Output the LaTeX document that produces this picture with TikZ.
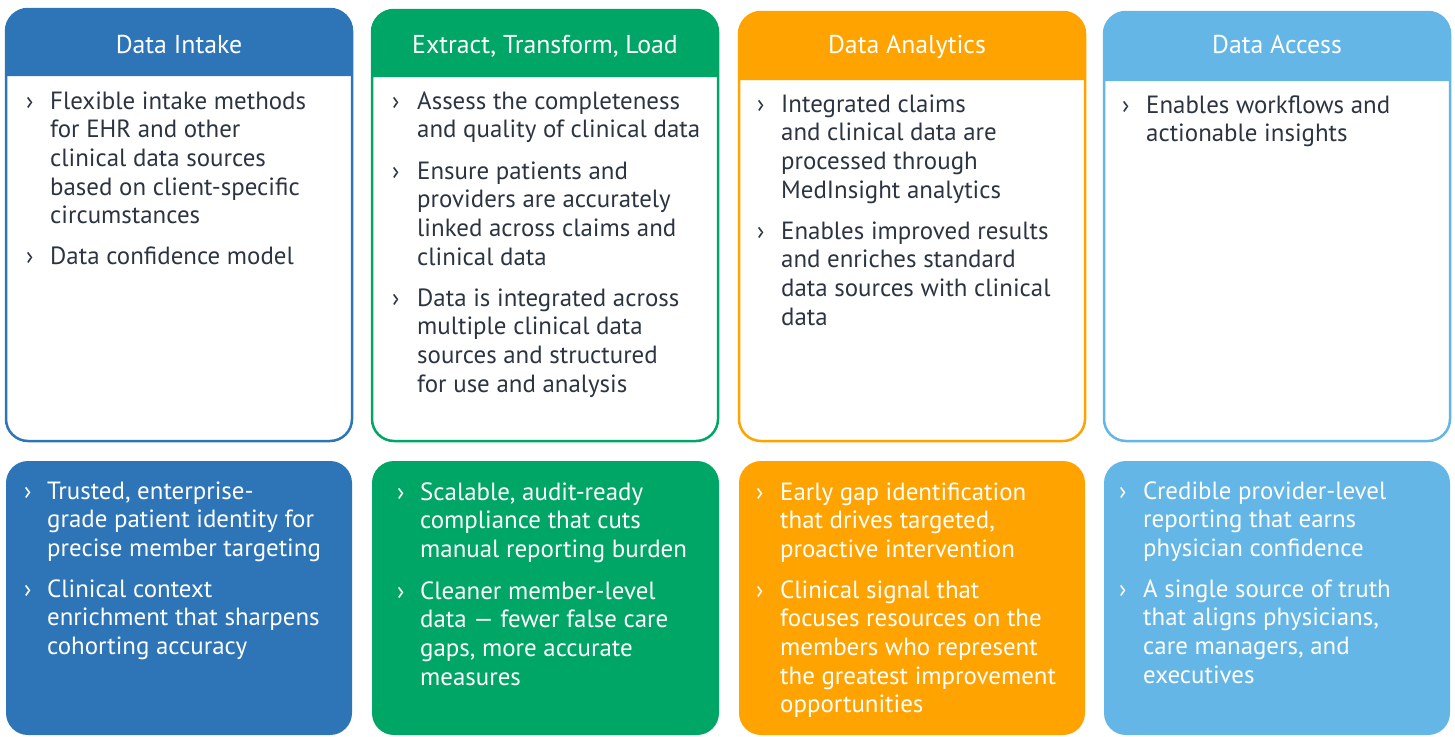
\documentclass[tikz,border=0pt]{standalone}
\usepackage{fontspec}
\setmainfont{PT Sans}
\definecolor{cblue}{HTML}{2E75B8}
\definecolor{cgreen}{HTML}{00A665}
\definecolor{corange}{HTML}{FFA300}
\definecolor{clight}{HTML}{63B6E5}
\definecolor{ink}{HTML}{2B3440}
\newcommand{\bodyf}{\fontsize{24.9}{28.7}\selectfont}
\newcommand{\headf}{\fontsize{25.8}{28.7}\selectfont}
\newcommand{\lns}[1]{\parbox[t]{330pt}{\raggedright\bodyf #1}}
\tikzset{
  txt/.style={anchor=base west, inner sep=0pt, text=ink},
  wtxt/.style={txt, text=white},
  bul/.style={anchor=base west, inner sep=0pt, text=ink, font=\bodyf},
  wbul/.style={bul, text=white},
  head/.style={anchor=base, inner sep=0pt, text=white, font=\headf},
  topbox/.style={draw=#1, line width=2.5pt, rounded corners=22pt},
  botbox/.style={fill=#1, rounded corners=22pt}
}
\begin{document}
\begin{tikzpicture}[x=1pt,y=-1pt]
\useasboundingbox (0,0) rectangle (1455,736);
% ---------- column 1 ----------
\fill[cblue] (6,76) {[rounded corners=22pt] -- (6,9) -- (352,9)} -- (352,76) -- cycle;
\draw[topbox=cblue] (6,9) rectangle (352,441);
\fill[botbox=cblue] (6,461) rectangle (352,735);
\node[head] (h1) at (179,53) {Data Intake};
\node[bul] (b1a) at (26,109) {›};
\node[txt] (t1a) at (50,109) {\lns{Flexible intake methods\\for EHR and other\\clinical data sources\\based on client-specific\\circumstances}};
\node[bul] (b1b) at (26,264) {›};
\node[txt] (t1b) at (50,264) {\lns{Data confidence model}};
\node[wbul] (c1a) at (24,499) {›};
\node[wtxt] (u1a) at (47,499) {\lns{Trusted, enterprise-\\grade patient identity for\\precise member targeting}};
\node[wbul] (c1b) at (24,597) {›};
\node[wtxt] (u1b) at (47,597) {\lns{Clinical context\\enrichment that sharpens\\cohorting accuracy}};
% ---------- column 2 ----------
\fill[cgreen] (372,77) {[rounded corners=22pt] -- (372,10) -- (718,10)} -- (718,77) -- cycle;
\draw[topbox=cgreen] (372,10) rectangle (718,441);
\fill[botbox=cgreen] (372,461) rectangle (719,735);
\node[head] (h2) at (545,53) {Extract, Transform, Load};
\node[bul] (b2a) at (392,109) {›};
\node[txt] (t2a) at (417,109) {\lns{Assess the completeness\\and quality of clinical data}};
\node[bul] (b2b) at (392,179) {›};
\node[txt] (t2b) at (417,179) {\lns{Ensure patients and\\providers are accurately\\linked across claims and\\clinical data}};
\node[bul] (b2c) at (392,306) {›};
\node[txt] (t2c) at (417,306) {\lns{Data is integrated across\\multiple clinical data\\sources and structured\\for use and analysis}};
\node[wbul] (c2a) at (397,500) {›};
\node[wtxt] (u2a) at (420,500) {\lns{Scalable, audit-ready\\compliance that cuts\\manual reporting burden}};
\node[wbul] (c2b) at (397,599) {›};
\node[wtxt] (u2b) at (420,599) {\lns{Cleaner member-level\\data — fewer false care\\gaps, more accurate\\measures}};
% ---------- column 3 ----------
\fill[corange] (739,80) {[rounded corners=22pt] -- (739,12) -- (1085,12)} -- (1085,80) -- cycle;
\draw[topbox=corange] (739,12) rectangle (1085,441);
\fill[botbox=corange] (739,461) rectangle (1085,735);
\node[head] (h3) at (907,53) {Data Analytics};
\node[bul] (b3a) at (757,112) {›};
\node[txt] (t3a) at (781,112) {\lns{Integrated claims\\and clinical data are\\processed through\\MedInsight analytics}};
\node[bul] (b3b) at (757,239) {›};
\node[txt] (t3b) at (781,239) {\lns{Enables improved results\\and enriches standard\\data sources with clinical\\data}};
\node[wbul] (c3a) at (756,500) {›};
\node[wtxt] (u3a) at (780,500) {\lns{Early gap identification\\that drives targeted,\\proactive intervention}};
\node[wbul] (c3b) at (756,598) {›};
\node[wtxt] (u3b) at (780,598) {\lns{Clinical signal that\\focuses resources on the\\members who represent\\the greatest improvement\\opportunities}};
% ---------- column 4 ----------
\fill[clight] (1104,81) {[rounded corners=22pt] -- (1104,12) -- (1450,12)} -- (1450,81) -- cycle;
\draw[topbox=clight] (1104,12) rectangle (1450,441);
\fill[botbox=clight] (1104,461) rectangle (1450,735);
\node[head] (h4) at (1277,53) {Data Access};
\node[bul] (b4a) at (1122,113) {›};
\node[txt] (t4a) at (1146,113) {\lns{Enables workflows and\\actionable insights}};
\node[wbul] (c4a) at (1119,499) {›};
\node[wtxt] (u4a) at (1143,499) {\lns{Credible provider-level\\reporting that earns\\physician confidence}};
\node[wbul] (c4b) at (1119,597) {›};
\node[wtxt] (u4b) at (1143,597) {\lns{A single source of truth\\that aligns physicians,\\care managers, and\\executives}};
\end{tikzpicture}
\end{document}
